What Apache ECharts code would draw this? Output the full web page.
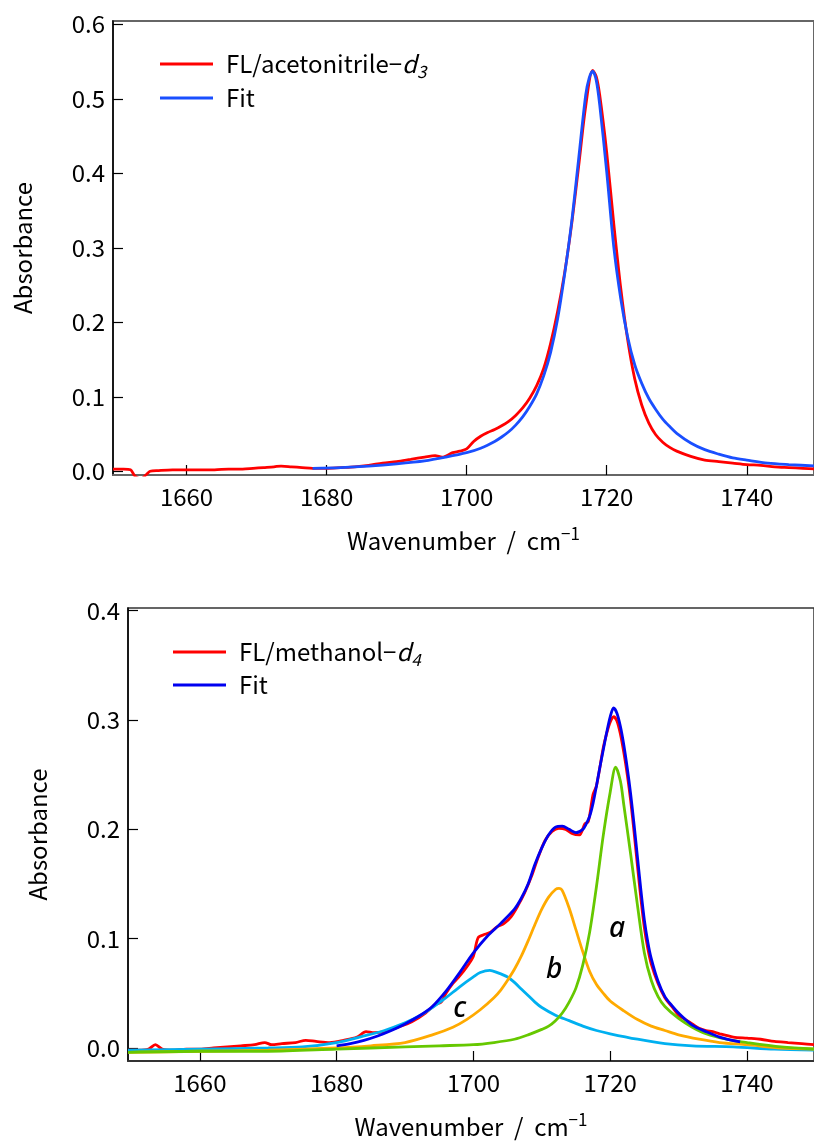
<!DOCTYPE html>
<html>
<head>
<meta charset="utf-8">
<script src="https://cdn.jsdelivr.net/npm/echarts@6.0.0/dist/echarts.min.js"></script>
<style>
  html, body { margin: 0; padding: 0; background: #fff; }
  #chart { width: 814px; height: 1144px; }
</style>
</head>
<body>
<div id="chart"></div>
<script>
// ---- data: [wavenumber, absorbance] ----
const xTicks = [1660, 1680, 1700, 1720, 1740];
const yTicksTop = [0, 0.1, 0.2, 0.3, 0.4, 0.5, 0.6];
const yTicksBottom = [0, 0.1, 0.2, 0.3, 0.4];

// top: FL / acetonitrile-d3
const acnMeasured = [
  [1649.5,0.003],[1651,0.003],[1652,0.002],[1652.6,-0.006],[1653.5,-0.01],[1654.3,-0.004],[1654.8,0.000],
  [1656,0.001],[1658,0.002],[1660,0.002],[1662,0.002],[1664,0.002],[1666,0.003],[1668,0.003],
  [1669.5,0.004],[1671,0.005],[1672.5,0.006],[1673.5,0.007],[1675,0.006],[1676.5,0.005],[1678,0.004],
  [1680,0.004],[1682,0.005],[1684,0.006],[1686,0.008],[1688,0.011],[1690,0.013],[1692,0.016],
  [1694,0.019],[1695.5,0.021],[1696.5,0.019],[1698,0.025],[1699,0.027],[1700,0.030],[1701,0.040],
  [1702,0.047],[1703,0.052],[1704,0.056],[1705,0.061],[1706,0.067],[1707,0.075],[1708,0.085],
  [1709,0.098],[1710,0.115],[1711,0.138],[1712,0.172],[1713,0.215],[1714,0.267],[1715,0.332],
  [1716,0.410],[1717,0.490],[1718,0.538],[1718.5,0.530],[1719,0.505],[1720,0.428],[1721,0.333],
  [1722,0.246],[1723,0.176],[1724,0.124],[1725,0.089],[1726,0.065],[1727,0.049],
  [1728,0.039],[1729,0.032],[1730,0.027],[1732,0.020],[1734,0.015],[1736,0.013],[1738,0.011],
  [1740,0.009],[1742,0.008],[1744,0.006],[1746,0.005],[1748,0.004],[1750,0.003]
];
const acnFit = [
  [1678,0.004],[1682,0.005],[1686,0.007],[1690,0.010],[1694,0.014],[1697,0.019],[1700,0.025],
  [1702,0.031],[1704,0.040],[1705,0.046],[1706,0.053],[1707,0.062],[1708,0.073],[1709,0.087],
  [1710,0.104],[1711,0.128],[1712,0.160],[1713,0.205],[1714,0.265],[1715,0.335],[1716,0.420],
  [1717,0.505],[1717.5,0.528],[1718,0.537],[1718.5,0.525],[1719,0.492],[1720,0.402],[1721,0.302],
  [1722,0.232],[1723,0.180],[1724,0.143],[1725,0.118],[1726,0.098],[1727,0.083],[1728,0.070],
  [1729,0.060],[1730,0.051],[1732,0.038],[1734,0.029],[1736,0.023],[1738,0.018],[1740,0.015],
  [1743,0.011],[1746,0.009],[1750,0.007]
];

// bottom: FL / methanol-d4
const meohMeasured = [
  [1649.5,-0.002],[1651,-0.002],[1652.5,-0.001],[1653.5,0.003],[1654.5,-0.001],[1656,-0.002],
  [1658,-0.001],[1660,-0.001],[1662,0.000],[1664,0.001],[1666,0.002],[1668,0.003],[1669.5,0.005],
  [1670.5,0.003],[1672,0.004],[1674,0.005],[1675.5,0.007],[1677,0.006],[1679,0.005],[1681,0.007],
  [1683,0.010],[1684.3,0.015],[1685.5,0.014],[1687,0.015],[1689,0.019],[1691,0.024],[1693,0.032],
  [1694.5,0.040],[1695.3,0.042],[1696,0.050],[1697,0.059],[1698,0.066],[1699,0.074],[1700,0.084],
  [1700.7,0.101],[1701.7,0.104],[1702.5,0.106],[1703.5,0.111],[1704.5,0.114],[1705.5,0.120],
  [1706.5,0.130],[1707.5,0.142],[1708.5,0.157],[1709.5,0.175],[1710.5,0.190],[1711.5,0.198],
  [1712.5,0.201],[1713.5,0.200],[1714.5,0.196],[1715.5,0.195],[1716.3,0.205],[1716.8,0.207],
  [1717.5,0.232],[1718,0.240],[1719,0.275],[1719.5,0.288],[1720,0.298],[1720.5,0.303],[1721,0.299],
  [1721.5,0.287],[1722,0.270],[1722.5,0.250],[1723,0.226],[1723.5,0.197],[1724,0.166],[1724.5,0.136],
  [1725,0.110],[1725.5,0.091],[1726,0.077],[1727,0.059],[1728,0.046],[1729,0.038],[1730,0.030],[1731,0.026],
  [1732,0.022],[1733,0.018],[1734,0.016],[1735,0.015],[1736,0.013],[1738,0.010],[1740,0.009],
  [1742,0.008],[1744,0.006],[1746,0.005],[1748,0.004],[1749.8,0.003]
];
const meohFit = [
  [1680,0.002],[1682,0.004],[1684,0.007],[1686,0.011],[1688,0.016],[1690,0.022],[1692,0.029],
  [1694,0.038],[1696,0.052],[1698,0.069],[1700,0.087],[1702,0.102],[1704,0.114],[1706,0.127],
  [1707,0.137],[1708,0.150],[1709,0.168],[1710,0.183],[1711,0.195],[1712,0.202],[1713,0.203],
  [1714,0.200],[1715,0.197],[1716,0.200],[1716.5,0.205],[1717,0.212],[1717.5,0.224],[1718,0.240],
  [1718.5,0.257],[1719,0.273],[1719.5,0.289],[1720,0.303],[1720.5,0.311],[1721,0.306],[1721.5,0.294],
  [1722,0.277],[1722.5,0.256],[1723,0.232],[1723.5,0.204],[1724,0.174],[1724.5,0.144],[1725,0.117],
  [1725.5,0.097],[1726,0.082],[1727,0.061],[1728,0.047],[1729,0.039],[1730,0.032],[1732,0.021],[1734,0.015],
  [1736,0.010],[1739,0.0055]
];
const bandA = [
  [1649.5,-0.004],[1660,-0.003],[1670,-0.003],[1680,-0.001],[1690,0.001],[1695,0.002],[1700,0.003],
  [1703,0.005],[1706,0.008],[1708,0.012],[1710,0.017],[1711,0.020],[1712,0.025],[1713,0.032],
  [1714,0.042],[1715,0.055],[1716,0.076],[1717,0.106],[1718,0.148],[1719,0.195],[1720,0.234],
  [1720.8,0.257],[1721.5,0.244],[1722,0.222],[1723,0.177],[1724,0.130],[1725,0.087],[1726,0.062],
  [1727,0.047],[1728,0.038],[1730,0.027],[1732,0.019],[1734,0.013],[1737,0.008],[1740,0.005],
  [1745,0.001],[1750,-0.001]
];
const bandB = [
  [1649.5,-0.004],[1660,-0.003],[1670,-0.002],[1680,0.000],[1685,0.002],[1690,0.005],[1694,0.012],
  [1697,0.019],[1699,0.026],[1701,0.035],[1703,0.046],[1704,0.053],[1705,0.062],[1706,0.072],
  [1707,0.084],[1708,0.098],[1709,0.113],[1710,0.127],[1711,0.138],[1712,0.145],[1712.5,0.146],
  [1713,0.144],[1714,0.128],[1715,0.108],[1716,0.088],[1717,0.070],[1718,0.058],[1719,0.050],
  [1720,0.043],[1722,0.034],[1724,0.026],[1726,0.020],[1728,0.016],[1730,0.012],[1733,0.008],
  [1736,0.005],[1740,0.003],[1745,0.000],[1750,-0.001]
];
const bandC = [
  [1649.5,-0.002],[1660,-0.001],[1670,0.000],[1675,0.001],[1680,0.005],[1684,0.011],[1687,0.016],
  [1690,0.023],[1692,0.029],[1694,0.037],[1696,0.046],[1698,0.056],[1700,0.065],[1701,0.069],
  [1702.4,0.071],[1703.5,0.069],[1705,0.065],[1706,0.060],[1707,0.054],[1708,0.048],[1709,0.042],
  [1710,0.037],[1712,0.030],[1714,0.025],[1716,0.020],[1718,0.016],[1720,0.013],[1724,0.008],
  [1728,0.004],[1732,0.002],[1738,0.001],[1744,-0.001],[1750,-0.002]
];
// band labels (italic a, b, c) placed in data coordinates
const bandLabels = [[1721.0,0.109,'a'],[1711.8,0.071,'b'],[1698.0,0.036,'c']];

const FONT = 'Noto Sans CJK JP';
let chart = echarts.init(document.getElementById('chart'));

function xAxisOf(gi, min, max, lineColor) {
  return {
    gridIndex: gi, type: 'value', min: min, max: max,
    name: '{t|Wavenumber  /  cm}{sup|−1}',
    nameLocation: 'middle', nameGap: 50,
    nameTextStyle: {
      rich: {
        t: { fontSize: 24, fontFamily: FONT, color: '#000', lineHeight: 32, verticalAlign: 'middle' },
        sup: { fontSize: 17, fontFamily: FONT, color: '#000', lineHeight: 12, verticalAlign: 'top' }
      }
    },
    axisLine: { show: true, onZero: false, lineStyle: { color: lineColor, width: 2 } },
    axisTick: { show: true, inside: true, length: 10, customValues: xTicks, lineStyle: { color: '#000', width: 1.2 } },
    axisLabel: { customValues: xTicks, margin: 10, fontSize: 24, fontFamily: FONT, color: '#000',
      formatter: v => String(v) },
    splitLine: { show: false }
  };
}
function yAxisOf(gi, min, max, ticks) {
  return {
    gridIndex: gi, type: 'value', min: min, max: max,
    name: 'Absorbance', nameLocation: 'middle', nameGap: 78, nameRotate: 90,
    nameTextStyle: { fontSize: 24, fontFamily: FONT, color: '#000' },
    axisLine: { show: true, onZero: false, lineStyle: { color: '#000', width: 1.5 } },
    axisTick: { show: true, inside: true, length: 10, customValues: ticks, lineStyle: { color: '#000', width: 1.2 } },
    axisLabel: { customValues: ticks, margin: 8, fontSize: 24, fontFamily: FONT, color: '#000',
      formatter: v => v.toFixed(1) },
    splitLine: { show: false }
  };
}
function lineSeries(name, data, color, xi, z) {
  return {
    name: name, type: 'line', data: data, xAxisIndex: xi, yAxisIndex: xi,
    showSymbol: false, symbol: 'none', smooth: 0.3, z: z,
    lineStyle: { color: color, width: 2.8 }, itemStyle: { color: color },
    emphasis: { disabled: true }
  };
}

const legendRich = {
  n: { fontSize: 24, fontFamily: FONT, color: '#000', lineHeight: 32, verticalAlign: 'middle', padding: [0,0,0,8] },
  i: { fontSize: 24, fontFamily: FONT, fontStyle: 'italic', color: '#000', lineHeight: 32, verticalAlign: 'middle' },
  s: { fontSize: 17, fontFamily: FONT, fontStyle: 'italic', color: '#000', lineHeight: 20, verticalAlign: 'bottom' }
};
function legendFmt(name) {
  if (name === 'FL/acetonitrile-d3') return '{n|FL/acetonitrile−}{i|d}{s|3}';
  if (name === 'FL/methanol-d4') return '{n|FL/methanol−}{i|d}{s|4}';
  return '{n|Fit}';
}

let option = {
  backgroundColor: '#fff',
  animation: false,
  grid: [
    { left: 113, top: 21, right: 0, height: 454, show: true, borderColor: '#666', borderWidth: 2, outerBoundsMode: 'none' },
    { left: 128, top: 608, right: 0, height: 453, show: true, borderColor: '#333', borderWidth: 1.5, outerBoundsMode: 'none' }
  ],
  legend: [
    { data: ['FL/acetonitrile-d3', 'Fit'], orient: 'vertical', left: 155, top: 47, icon: 'rect',
      itemWidth: 53, itemHeight: 3, itemGap: 6, formatter: legendFmt, textStyle: { rich: legendRich } },
    { data: ['FL/methanol-d4', 'Fit '], orient: 'vertical', left: 168, top: 635, icon: 'rect',
      itemWidth: 53, itemHeight: 3, itemGap: 5, formatter: legendFmt, textStyle: { rich: legendRich } }
  ],
  xAxis: [ xAxisOf(0, 1649.5, 1749.6, '#666'), xAxisOf(1, 1649.5, 1749.8, '#333') ],
  yAxis: [ yAxisOf(0, -0.005, 0.6044, yTicksTop), yAxisOf(1, -0.0119, 0.4025, yTicksBottom) ],
  series: [
    lineSeries('FL/acetonitrile-d3', acnMeasured, '#ff0000', 0, 2),
    lineSeries('Fit', acnFit, '#1a4fff', 0, 3),
    lineSeries('FL/methanol-d4', meohMeasured, '#ff0000', 1, 2),
    lineSeries('c', bandC, '#00b0f0', 1, 3),
    lineSeries('b', bandB, '#ffaa00', 1, 3),
    lineSeries('a', bandA, '#66c800', 1, 3),
    lineSeries('Fit ', meohFit, '#0000f0', 1, 4),
    {
      name: 'labels', type: 'scatter', xAxisIndex: 1, yAxisIndex: 1, data: bandLabels,
      symbolSize: 2, itemStyle: { color: 'rgba(0,0,0,0)' }, silent: true, z: 5,
      label: { show: true, position: 'inside', formatter: p => p.data[2],
        fontSize: 28, fontStyle: 'italic', fontWeight: 500, fontFamily: 'Noto Sans', color: '#000',
        textBorderWidth: 0, opacity: 1 }
    }
  ]
};
chart.setOption(option);
</script>
</body>
</html>
